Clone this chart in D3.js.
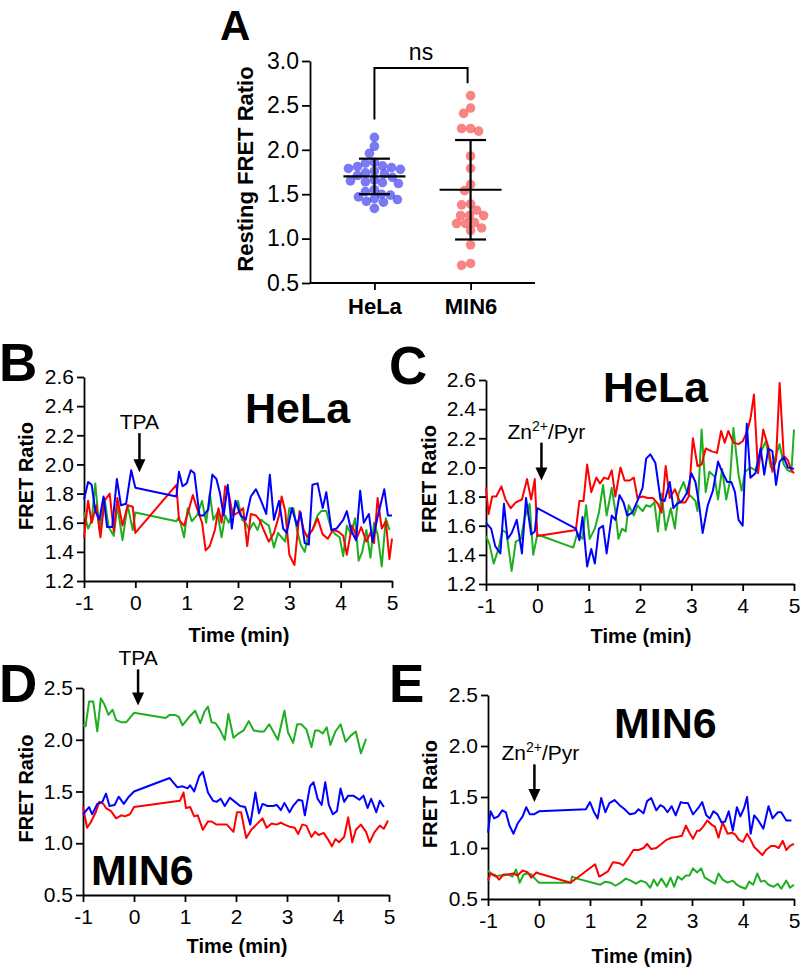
<!DOCTYPE html>
<html><head><meta charset="utf-8">
<script src="https://cdn.jsdelivr.net/npm/d3@7"></script>
<style>
body{margin:0;background:#fff}
svg text{font-family:Arial,"Liberation Sans",Helvetica,sans-serif;fill:#000}
</style>
</head><body>
<svg id="fig" width="800" height="971"></svg>
<script>
// ---------------- DATA ----------------
const groups = ["HeLa", "MIN6"];
const helaResting = [2.14,2.04,1.96,1.86,1.85,1.79,1.80,1.82,1.81,1.78,1.76,1.74,1.73,1.65,1.64,1.62,1.66,1.63,1.55,1.53,1.44,1.42,1.45,1.47,1.50,1.49,1.41,1.34,1.71,1.69];
const min6Resting = [2.61,2.47,2.41,2.24,2.24,2.21,1.93,1.79,1.61,1.54,1.39,1.38,1.32,1.26,1.26,1.26,1.18,1.17,1.17,1.12,1.09,0.93,0.72,0.70];
const groupMean = [1.70, 1.55];
const groupSD = [0.20, 0.56];
const restTicks = [0.5, 1.0, 1.5, 2.0, 2.5, 3.0];
const sigLabel = "ns";
const sigBracket = [2.92, 2.34, 2.75]; // top, left leg end, right leg end

const timeTicks = [-1, 0, 1, 2, 3, 4, 5];
const helaTicks = [1.2, 1.4, 1.6, 1.8, 2.0, 2.2, 2.4, 2.6];
const min6Ticks = [0.5, 1.0, 1.5, 2.0, 2.5];

const bRed = [[-1,1.50],[-0.92,1.75],[-0.85,1.60],[-0.76,1.72],[-0.68,1.50],[-0.6,1.75],[-0.5,1.80],[-0.42,1.54],[-0.35,1.77],[-0.25,1.58],[-0.15,1.72],[-0.05,1.71],[0,1.53],[0.8,1.86],[0.85,1.62],[0.95,1.58],[1.05,1.70],[1.12,1.79],[1.2,1.70],[1.3,1.60],[1.37,1.41],[1.45,1.44],[1.55,1.55],[1.62,1.70],[1.68,1.60],[1.75,1.85],[1.82,1.80],[1.9,1.65],[2.0,1.67],[2.1,1.70],[2.18,1.44],[2.25,1.66],[2.35,1.65],[2.42,1.62],[2.5,1.55],[2.6,1.47],[2.7,1.53],[2.8,1.65],[2.85,1.78],[2.92,1.68],[3.0,1.38],[3.1,1.31],[3.2,1.68],[3.28,1.55],[3.35,1.50],[3.45,1.55],[3.55,1.63],[3.65,1.52],[3.75,1.49],[3.85,1.55],[3.95,1.54],[4.05,1.51],[4.12,1.38],[4.22,1.58],[4.32,1.50],[4.4,1.57],[4.5,1.47],[4.58,1.53],[4.65,1.46],[4.72,1.77],[4.8,1.56],[4.88,1.61],[4.95,1.35],[5.0,1.49]];
const bGreen = [[-1,1.67],[-0.92,1.56],[-0.85,1.62],[-0.78,1.87],[-0.7,1.55],[-0.6,1.77],[-0.52,1.57],[-0.42,1.51],[-0.35,1.72],[-0.25,1.48],[-0.15,1.72],[-0.05,1.55],[0,1.67],[0.8,1.61],[0.85,1.64],[0.95,1.50],[1.02,1.70],[1.1,1.61],[1.2,1.65],[1.3,1.75],[1.38,1.60],[1.45,1.80],[1.52,1.62],[1.6,1.67],[1.68,1.50],[1.75,1.65],[1.82,1.60],[1.9,1.68],[2.0,1.75],[2.08,1.62],[2.15,1.60],[2.22,1.55],[2.3,1.60],[2.38,1.55],[2.45,1.62],[2.52,1.60],[2.6,1.58],[2.7,1.43],[2.78,1.53],[2.85,1.50],[2.92,1.47],[3.0,1.70],[3.08,1.70],[3.15,1.55],[3.22,1.45],[3.3,1.40],[3.38,1.53],[3.45,1.55],[3.55,1.65],[3.62,1.68],[3.72,1.68],[3.82,1.55],[3.9,1.52],[3.98,1.50],[4.05,1.37],[4.12,1.58],[4.2,1.52],[4.28,1.63],[4.35,1.34],[4.42,1.40],[4.5,1.55],[4.58,1.36],[4.65,1.60],[4.72,1.52],[4.8,1.30],[4.88,1.63],[4.95,1.55]];
const bBlue = [[-1,1.76],[-0.92,1.88],[-0.85,1.86],[-0.78,1.68],[-0.7,1.62],[-0.62,1.78],[-0.55,1.57],[-0.45,1.57],[-0.36,1.90],[-0.28,1.72],[-0.18,1.73],[-0.08,1.96],[0,1.84],[0.8,1.78],[0.85,1.95],[0.92,1.85],[1.0,1.87],[1.08,1.96],[1.15,1.94],[1.25,1.65],[1.33,1.65],[1.42,1.69],[1.5,1.93],[1.58,1.90],[1.65,1.80],[1.72,1.65],[1.8,1.86],[1.88,1.56],[1.95,1.75],[2.05,1.65],[2.15,1.62],[2.25,1.78],[2.35,1.83],[2.45,1.75],[2.55,1.66],[2.62,1.93],[2.7,1.62],[2.8,1.75],[2.88,1.56],[2.95,1.53],[3.05,1.70],[3.15,1.58],[3.22,1.67],[3.3,1.46],[3.38,1.45],[3.45,1.86],[3.55,1.87],[3.65,1.70],[3.72,1.81],[3.82,1.55],[3.92,1.56],[4.05,1.62],[4.12,1.68],[4.2,1.55],[4.3,1.48],[4.38,1.82],[4.45,1.60],[4.55,1.66],[4.62,1.47],[4.72,1.64],[4.85,1.83],[4.92,1.65],[5.0,1.65]];

const cRed = [[-1,1.86],[-0.95,1.68],[-0.88,1.80],[-0.8,1.80],[-0.7,1.87],[-0.62,1.78],[-0.52,1.72],[-0.42,1.76],[-0.3,1.78],[-0.2,1.92],[-0.12,1.78],[-0.05,1.92],[0,1.53],[0.75,1.57],[0.82,1.77],[0.9,1.77],[0.97,2.02],[1.05,1.83],[1.15,1.93],[1.22,1.89],[1.3,1.93],[1.38,1.92],[1.45,1.98],[1.52,1.80],[1.62,2.00],[1.7,1.91],[1.8,1.91],[1.88,1.93],[1.95,1.79],[2.05,1.80],[2.15,1.79],[2.25,1.79],[2.35,1.75],[2.42,1.69],[2.5,2.01],[2.58,1.79],[2.68,1.85],[2.78,1.76],[2.88,1.76],[2.95,1.80],[3.03,2.20],[3.12,2.01],[3.2,2.02],[3.28,2.13],[3.4,2.11],[3.5,2.10],[3.58,2.25],[3.65,2.17],[3.72,2.25],[3.82,2.17],[3.92,2.16],[4.0,2.18],[4.08,2.24],[4.15,2.33],[4.22,2.50],[4.3,1.96],[4.4,2.26],[4.5,2.14],[4.58,1.97],[4.65,2.05],[4.72,2.58],[4.8,2.08],[4.88,2.05],[4.95,1.98],[5.0,1.96]];
const cGreen = [[-1,1.53],[-0.93,1.47],[-0.85,1.34],[-0.75,1.45],[-0.68,1.57],[-0.6,1.55],[-0.5,1.29],[-0.42,1.49],[-0.32,1.51],[-0.25,1.65],[-0.15,1.75],[-0.08,1.40],[0,1.54],[0.7,1.45],[0.78,1.55],[0.88,1.51],[0.95,1.74],[1.02,1.51],[1.12,1.58],[1.2,1.69],[1.28,1.88],[1.35,1.67],[1.45,1.86],[1.52,1.70],[1.58,1.51],[1.65,1.58],[1.72,1.56],[1.78,1.74],[1.88,1.67],[1.95,1.74],[2.05,1.70],[2.12,1.74],[2.2,1.73],[2.28,1.76],[2.35,1.56],[2.42,1.82],[2.5,1.57],[2.6,1.72],[2.68,1.58],[2.75,1.82],[2.85,1.90],[2.92,1.82],[3.0,1.80],[3.08,1.77],[3.12,1.70],[3.2,2.26],[3.28,1.83],[3.35,1.97],[3.45,1.94],[3.52,1.78],[3.6,1.99],[3.68,1.78],[3.75,1.90],[3.82,2.27],[3.92,1.95],[3.98,1.84],[4.05,1.97],[4.15,2.00],[4.25,1.98],[4.35,2.10],[4.45,2.18],[4.55,2.00],[4.62,2.05],[4.72,2.16],[4.8,2.02],[4.88,1.98],[4.95,1.97],[5.0,2.26]];
const cBlue = [[-1,1.62],[-0.9,1.58],[-0.82,1.46],[-0.72,1.41],[-0.65,1.75],[-0.58,1.51],[-0.5,1.55],[-0.4,1.64],[-0.3,1.41],[-0.22,1.79],[-0.12,1.54],[-0.05,1.56],[0,1.72],[0.75,1.58],[0.82,1.50],[0.88,1.66],[0.97,1.32],[1.05,1.44],[1.12,1.34],[1.2,1.58],[1.28,1.60],[1.35,1.41],[1.45,1.67],[1.52,1.64],[1.6,1.81],[1.68,1.76],[1.75,1.67],[1.85,1.69],[1.95,1.77],[2.05,1.86],[2.12,2.06],[2.2,2.09],[2.3,2.03],[2.4,1.78],[2.48,1.77],[2.58,1.90],[2.65,1.72],[2.72,1.75],[2.82,1.77],[2.92,1.83],[3.0,1.96],[3.08,1.90],[3.15,1.75],[3.22,1.55],[3.32,1.74],[3.42,1.84],[3.52,2.04],[3.6,1.97],[3.7,1.90],[3.78,1.90],[3.85,1.83],[3.92,1.64],[4.0,1.60],[4.08,2.30],[4.15,1.93],[4.25,1.96],[4.35,2.13],[4.42,1.95],[4.5,2.13],[4.58,2.11],[4.65,1.88],[4.72,2.04],[4.8,2.07],[4.88,2.00],[5.0,1.99]];

const dGreen = [[-1,2.14],[-0.95,2.13],[-0.88,2.37],[-0.8,2.37],[-0.72,2.08],[-0.65,2.40],[-0.58,2.34],[-0.5,2.24],[-0.42,2.29],[-0.35,2.19],[-0.25,2.17],[-0.15,2.17],[0,2.26],[0.62,2.21],[0.7,2.24],[0.8,2.24],[0.88,2.22],[0.95,2.14],[1.1,2.23],[1.2,2.28],[1.3,2.16],[1.38,2.27],[1.45,2.32],[1.52,2.17],[1.6,2.16],[1.68,2.10],[1.78,2.00],[1.85,2.25],[1.95,2.02],[2.05,2.06],[2.15,2.09],[2.25,2.18],[2.35,2.09],[2.45,2.08],[2.55,2.08],[2.65,2.15],[2.72,2.09],[2.82,2.00],[2.95,2.28],[3.02,2.07],[3.12,1.97],[3.2,2.15],[3.28,2.15],[3.38,2.10],[3.48,1.93],[3.55,2.09],[3.62,2.09],[3.7,2.06],[3.78,2.12],[3.85,1.95],[3.95,2.08],[4.05,2.15],[4.15,1.98],[4.25,2.04],[4.35,2.08],[4.45,1.87],[4.55,2.01]];
const dBlue = [[-1,1.28],[-0.88,1.35],[-0.82,1.28],[-0.72,1.38],[-0.62,1.40],[-0.55,1.48],[-0.48,1.36],[-0.38,1.37],[-0.3,1.45],[-0.2,1.38],[-0.1,1.45],[0,1.50],[0.7,1.63],[0.85,1.54],[0.95,1.55],[1.05,1.53],[1.1,1.56],[1.18,1.50],[1.28,1.65],[1.35,1.69],[1.45,1.49],[1.55,1.41],[1.62,1.40],[1.7,1.43],[1.78,1.36],[1.88,1.44],[1.98,1.40],[2.08,1.36],[2.18,1.35],[2.28,1.18],[2.38,1.49],[2.45,1.29],[2.52,1.38],[2.62,1.36],[2.72,1.36],[2.8,1.37],[2.88,1.32],[2.95,1.39],[3.05,1.30],[3.12,1.36],[3.22,1.42],[3.3,1.41],[3.35,1.27],[3.45,1.55],[3.52,1.59],[3.6,1.43],[3.68,1.37],[3.75,1.59],[3.82,1.37],[3.9,1.28],[3.98,1.31],[4.05,1.53],[4.12,1.40],[4.2,1.46],[4.3,1.46],[4.42,1.42],[4.5,1.46],[4.58,1.34],[4.65,1.43],[4.75,1.30],[4.82,1.41],[4.9,1.35]];
const dRed = [[-1,1.35],[-0.92,1.15],[-0.85,1.20],[-0.75,1.30],[-0.68,1.40],[-0.6,1.38],[-0.55,1.34],[-0.45,1.31],[-0.35,1.24],[-0.25,1.27],[-0.18,1.26],[-0.08,1.28],[0,1.35],[0.9,1.41],[0.97,1.49],[1.02,1.34],[1.1,1.35],[1.18,1.26],[1.25,1.27],[1.35,1.13],[1.45,1.21],[1.52,1.21],[1.62,1.18],[1.72,1.18],[1.82,1.18],[1.95,1.11],[2.02,1.30],[2.1,1.30],[2.2,1.05],[2.3,1.13],[2.4,1.18],[2.52,1.24],[2.6,1.15],[2.7,1.19],[2.8,1.18],[2.88,1.20],[2.95,1.18],[3.05,1.16],[3.15,1.15],[3.22,1.09],[3.3,1.18],[3.38,1.17],[3.48,1.06],[3.55,1.11],[3.62,1.08],[3.72,1.10],[3.8,1.04],[3.88,0.97],[3.95,1.04],[4.02,1.01],[4.12,1.06],[4.2,1.25],[4.28,1.01],[4.35,1.13],[4.45,1.18],[4.55,1.11],[4.62,1.01],[4.72,1.11],[4.82,1.17],[4.9,1.14],[4.98,1.22]];

const eBlue = [[-1,1.15],[-0.95,1.36],[-0.88,1.29],[-0.8,1.31],[-0.72,1.37],[-0.65,1.35],[-0.58,1.22],[-0.5,1.14],[-0.42,1.24],[-0.32,1.31],[-0.25,1.40],[-0.18,1.33],[-0.1,1.33],[0,1.36],[0.92,1.38],[1.0,1.45],[1.08,1.35],[1.15,1.29],[1.22,1.49],[1.3,1.35],[1.38,1.44],[1.48,1.47],[1.58,1.42],[1.68,1.38],[1.78,1.33],[1.88,1.34],[1.95,1.38],[2.05,1.34],[2.12,1.46],[2.2,1.49],[2.3,1.37],[2.38,1.42],[2.45,1.40],[2.52,1.35],[2.6,1.41],[2.68,1.32],[2.78,1.45],[2.85,1.44],[2.92,1.44],[3.02,1.33],[3.12,1.39],[3.2,1.45],[3.28,1.32],[3.35,1.29],[3.42,1.36],[3.5,1.33],[3.58,1.25],[3.65,1.26],[3.72,1.36],[3.8,1.17],[3.88,1.40],[3.95,1.31],[4.02,1.39],[4.08,1.50],[4.15,1.14],[4.22,1.32],[4.3,1.27],[4.4,1.19],[4.5,1.41],[4.58,1.29],[4.68,1.35],[4.75,1.35],[4.85,1.27],[4.95,1.27]];
const eRed = [[-1,0.68],[-0.95,0.75],[-0.85,0.73],[-0.78,0.69],[-0.7,0.74],[-0.6,0.74],[-0.5,0.75],[-0.42,0.73],[-0.32,0.78],[-0.22,0.76],[-0.15,0.71],[-0.05,0.76],[0,0.75],[0.62,0.66],[1.1,0.84],[1.18,0.72],[1.25,0.74],[1.35,0.77],[1.45,0.86],[1.58,0.85],[1.65,0.83],[1.75,0.90],[1.85,0.98],[1.95,0.98],[2.05,1.00],[2.12,1.04],[2.2,0.99],[2.3,1.00],[2.4,1.04],[2.5,1.08],[2.6,1.10],[2.72,1.11],[2.8,1.12],[2.88,1.22],[2.95,1.15],[3.02,1.09],[3.1,1.17],[3.15,1.17],[3.22,1.21],[3.3,1.27],[3.38,1.23],[3.45,1.21],[3.52,1.10],[3.6,1.25],[3.7,1.14],[3.78,1.15],[3.85,1.13],[3.92,1.08],[4.0,1.06],[4.08,1.14],[4.15,1.08],[4.22,1.01],[4.3,0.97],[4.38,0.93],[4.45,0.98],[4.55,1.02],[4.62,1.02],[4.7,1.00],[4.78,1.07],[4.85,0.98],[4.92,1.02],[5.0,1.04]];
const eGreen = [[-1,0.78],[-0.92,0.74],[-0.85,0.72],[-0.78,0.73],[-0.7,0.73],[-0.6,0.74],[-0.52,0.72],[-0.45,0.79],[-0.38,0.66],[-0.3,0.74],[-0.22,0.75],[-0.15,0.74],[-0.08,0.70],[0,0.66],[0.62,0.66],[0.65,0.72],[0.75,0.70],[1.2,0.64],[1.3,0.67],[1.4,0.66],[1.5,0.63],[1.6,0.66],[1.7,0.70],[1.8,0.68],[1.9,0.65],[2.0,0.68],[2.1,0.66],[2.18,0.61],[2.25,0.69],[2.32,0.63],[2.4,0.70],[2.5,0.62],[2.58,0.71],[2.65,0.62],[2.72,0.72],[2.8,0.69],[2.88,0.73],[2.95,0.73],[3.02,0.80],[3.1,0.76],[3.18,0.80],[3.25,0.71],[3.35,0.68],[3.45,0.65],[3.52,0.75],[3.6,0.69],[3.7,0.66],[3.8,0.68],[3.88,0.64],[3.95,0.62],[4.05,0.60],[4.12,0.67],[4.2,0.64],[4.28,0.75],[4.35,0.67],[4.42,0.68],[4.5,0.64],[4.6,0.62],[4.68,0.65],[4.75,0.60],[4.85,0.68],[4.92,0.61],[5.0,0.64]];

// ---------------- DRAWING ----------------
const svg = d3.select("#fig");
const FONT = 'Arial,"Liberation Sans",Helvetica,sans-serif';
const COL = {red: "#ff0000", green: "#1fae1f", blue: "#0000ff"};

function styleAxis(g, fs) {
  g.selectAll("path.domain").attr("stroke", "#000").attr("stroke-width", 1.8);
  g.selectAll(".tick line").attr("stroke", "#000").attr("stroke-width", 1.8);
  g.selectAll(".tick text").attr("font-size", fs).attr("font-family", FONT).attr("fill", "#000");
}

// ---- Panel A ----
(function(){
  const x = d3.scalePoint().domain(groups).range([310, 535]).padding(0.67);
  const y = d3.scaleLinear().domain([0.5, 3.0]).range([283, 61]);
  const gy = svg.append("g").attr("transform", "translate(310,0)")
    .call(d3.axisLeft(y).tickValues(restTicks).tickFormat(d3.format(".1f")).tickSize(8).tickPadding(3).tickSizeOuter(0));
  styleAxis(gy, 23);
  const gx = svg.append("g").attr("transform", "translate(0,283)")
    .call(d3.axisBottom(x).tickSize(7).tickPadding(8).tickSizeOuter(0));
  styleAxis(gx, 22);
  gx.selectAll(".tick text").attr("font-weight", "bold");
  gx.select("path.domain").attr("d", "M310,0H535");

  // beeswarm layout computed from the values
  const r = 4.8, minD = 8.2;
  function swarm(vals) {
    const placed = [];
    const order = vals.map((v,i)=>i).sort((a,b)=>vals[b]-vals[a]);
    order.forEach(i => {
      const py = y(vals[i]);
      let best = 0;
      for (let k = 0; k < 200; k++) {
        const off = (k % 2 === 0 ? 1 : -1) * Math.ceil(k/2) * 1;
        if (placed.every(p => (p.dx-off)**2 + (p.py-py)**2 >= minD*minD)) { best = off; break; }
      }
      placed.push({dx: best, py, v: vals[i]});
    });
    return placed;
  }
  const sets = [helaResting, min6Resting];
  const fills = ["rgba(70,70,240,0.72)", "rgba(245,85,85,0.72)"];
  sets.forEach((vals, gi) => {
    const pts = swarm(vals);
    svg.append("g").selectAll("circle").data(pts).join("circle")
      .attr("cx", d => x(groups[gi]) + d.dx).attr("cy", d => d.py).attr("r", r)
      .attr("fill", fills[gi]);
  });
  // mean & SD
  groups.forEach((gname, gi) => {
    const cx = x(gname), m = groupMean[gi], s = groupSD[gi];
    const g = svg.append("g").attr("stroke", "#000").attr("stroke-width", 2.2);
    g.append("line").attr("x1", cx-31).attr("x2", cx+31).attr("y1", y(m)).attr("y2", y(m));
    g.append("line").attr("x1", cx).attr("x2", cx).attr("y1", y(m-s)).attr("y2", y(m+s));
    g.append("line").attr("x1", cx-15.5).attr("x2", cx+15.5).attr("y1", y(m+s)).attr("y2", y(m+s));
    g.append("line").attr("x1", cx-15.5).attr("x2", cx+15.5).attr("y1", y(m-s)).attr("y2", y(m-s));
  });
  // significance bracket
  const x0 = x(groups[0]), x1 = x(groups[1]) - 3;
  svg.append("path").attr("fill", "none").attr("stroke", "#000").attr("stroke-width", 2)
    .attr("d", `M${x0},${y(sigBracket[1])}V${y(sigBracket[0])}H${x1}V${y(sigBracket[2])}`);
  svg.append("text").attr("x", (x0+x1)/2).attr("y", y(sigBracket[0]) - 8).attr("text-anchor", "middle")
    .attr("font-size", 23).text(sigLabel);
  // y title
  svg.append("text").attr("transform", "translate(253,169) rotate(-90)").attr("text-anchor", "middle")
    .attr("font-size", 22).attr("font-weight", "bold").text("Resting FRET Ratio");
  svg.append("text").attr("x", 220).attr("y", 40).attr("font-size", 42).attr("font-weight", "bold").text("A");
})();

// ---- Panels B-E ----
function timePanel(cfg) {
  const x = d3.scaleLinear().domain([-1, 5]).range([cfg.x0, cfg.x1]);
  const y = d3.scaleLinear().domain(cfg.yDomain).range([cfg.yb, cfg.yt]);
  const gy = svg.append("g").attr("transform", `translate(${cfg.x0},0)`)
    .call(d3.axisLeft(y).tickValues(cfg.yTicks).tickFormat(d3.format(".1f")).tickSize(7).tickPadding(3).tickSizeOuter(0));
  styleAxis(gy, 21);
  const gx = svg.append("g").attr("transform", `translate(0,${cfg.yb})`)
    .call(d3.axisBottom(x).tickValues(timeTicks).tickFormat(d => String(d)).tickSize(7).tickPadding(7).tickSizeOuter(0));
  styleAxis(gx, 21);
  const line = d3.line().x(d => x(d[0])).y(d => y(d[1]));
  cfg.series.forEach(s => {
    svg.append("path").datum(s.data).attr("fill", "none").attr("stroke", s.color)
      .attr("stroke-width", 2).attr("stroke-linejoin", "round").attr("d", line);
  });
  // axis titles
  svg.append("text").attr("x", (cfg.x0+cfg.x1)/2 + 1).attr("y", cfg.xTitleY).attr("text-anchor", "middle")
    .attr("font-size", 20).attr("font-weight", "bold").text("Time (min)");
  svg.append("text").attr("transform", `translate(${cfg.yTitleX},${(cfg.yb+cfg.yt)/2 - 3}) rotate(-90)`)
    .attr("text-anchor", "middle").attr("font-size", 20).attr("font-weight", "bold").text("FRET Ratio");
  // panel letter
  svg.append("text").attr("x", cfg.letterX).attr("y", cfg.letterY).attr("font-size", 53)
    .attr("font-weight", "bold").text(cfg.letter);
  // cell label
  svg.append("text").attr("x", cfg.cellX).attr("y", cfg.cellY).attr("font-size", 43)
    .attr("font-weight", "bold").text(cfg.cell);
  // arrow annotation
  const ax = x(cfg.arrowT), aTop = y(cfg.arrowV[0]), aTip = y(cfg.arrowV[1]);
  svg.append("line").attr("x1", ax).attr("x2", ax).attr("y1", aTop).attr("y2", aTip - 10)
    .attr("stroke", "#000").attr("stroke-width", 2.5);
  svg.append("path").attr("d", `M${ax-6},${aTip-13}L${ax+6},${aTip-13}L${ax},${aTip}Z`).attr("fill", "#000");
  const t = svg.append("text").attr("x", ax + (cfg.labelDx||0)).attr("y", aTop - 4).attr("text-anchor", "middle")
    .attr("font-size", 21);
  if (cfg.zn) {
    t.append("tspan").text("Zn");
    t.append("tspan").attr("font-size", 14).attr("dy", -8).text("2+");
    t.append("tspan").attr("dy", 8).text("/Pyr");
  } else t.text("TPA");
}

timePanel({x0: 84, x1: 392, yb: 581, yt: 377, yDomain: [1.2, 2.6], yTicks: helaTicks,
  series: [{data: bGreen, color: COL.green}, {data: bRed, color: COL.red}, {data: bBlue, color: COL.blue}],
  xTitleY: 642, yTitleX: 33, letter: "B", letterX: -1, letterY: 381, cell: "HeLa", cellX: 245, cellY: 423,
  arrowT: 0.08, arrowV: [2.215, 1.947]});
timePanel({x0: 486, x1: 794, yb: 584, yt: 380, yDomain: [1.2, 2.6], yTicks: helaTicks,
  series: [{data: cGreen, color: COL.green}, {data: cRed, color: COL.red}, {data: cBlue, color: COL.blue}],
  xTitleY: 643, yTitleX: 436, letter: "C", letterX: 389, letterY: 384, cell: "HeLa", cellX: 603, cellY: 402,
  arrowT: 0.08, arrowV: [2.17, 1.91], zn: true, labelDx: 5});
timePanel({x0: 83, x1: 389, yb: 895, yt: 688, yDomain: [0.5, 2.5], yTicks: min6Ticks,
  series: [{data: dGreen, color: COL.green}, {data: dRed, color: COL.red}, {data: dBlue, color: COL.blue}],
  xTitleY: 953, yTitleX: 33, letter: "D", letterX: -1, letterY: 702, cell: "MIN6", cellX: 91, cellY: 885,
  arrowT: 0.08, arrowV: [2.68, 2.33]});
timePanel({x0: 488, x1: 794, yb: 899, yt: 695, yDomain: [0.5, 2.5], yTicks: min6Ticks,
  series: [{data: eGreen, color: COL.green}, {data: eRed, color: COL.red}, {data: eBlue, color: COL.blue}],
  xTitleY: 963, yTitleX: 437, letter: "E", letterX: 389, letterY: 702, cell: "MIN6", cellX: 614, cellY: 738,
  arrowT: -0.09, arrowV: [1.82, 1.45], zn: true, labelDx: 6});
</script>
</body></html>
